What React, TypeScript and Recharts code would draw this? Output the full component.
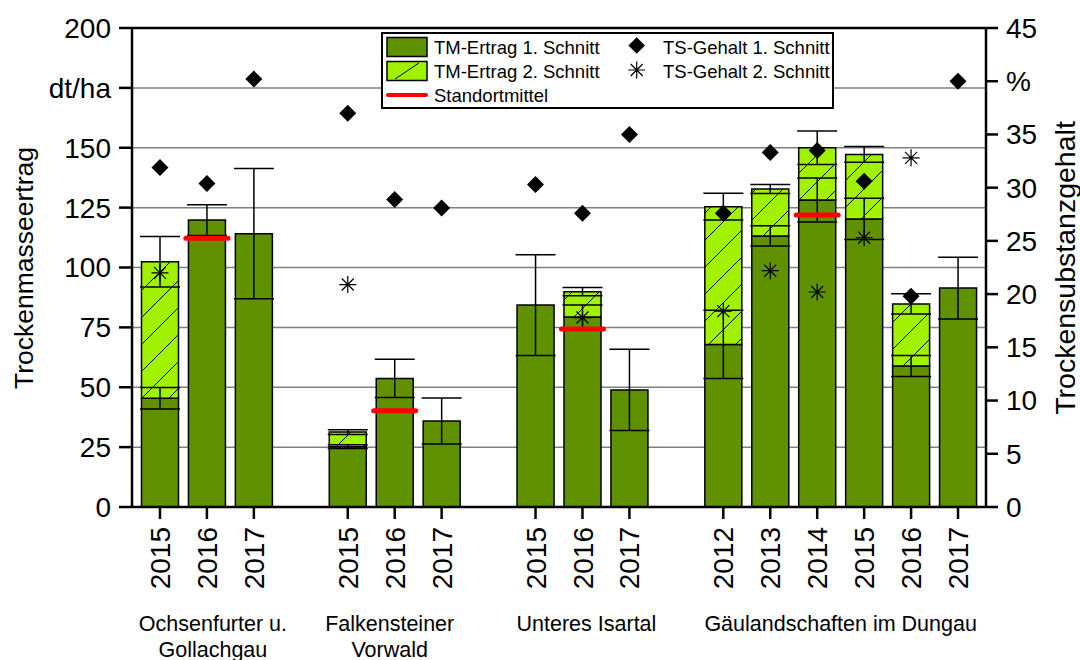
import React from 'react';
import {
  ComposedChart,
  Bar,
  Line,
  XAxis,
  YAxis,
  CartesianGrid,
  ErrorBar,
  ReferenceLine,
  Legend,
} from 'recharts';

// ---------- data ----------
const years = ['2015', '2016', '2017', '', '2015', '2016', '2017', '', '2015', '2016', '2017', '', '2012', '2013', '2014', '2015', '2016', '2017'];
// TM-Ertrag 1. Schnitt (dt/ha)
const tmCut1 = [45.4, 119.8, 114.1, null, 25.2, 53.7, 35.9, null, 84.3, 79.3, 48.9, null, 67.9, 113.2, 128.2, 120.3, 58.9, 91.4];
// TM-Ertrag 2. Schnitt (dt/ha, stacked on top of 1. Schnitt)
const tmCut2 = [57.0, null, null, null, 6.1, null, null, null, null, 10.6, null, null, 57.5, 19.6, 21.8, 26.9, 25.9, null];
// error (+/-) of 1. Schnitt
const errCut1 = [4.5, 6.4, 27.2, null, 0.8, 8.0, 9.6, null, 21.0, 5.0, 17.0, null, 14.2, 4.2, 9.2, 8.6, 4.4, 12.9];
// error (+/-) of total (2. Schnitt)
const errCut2 = [10.5, null, null, null, 1.0, null, null, null, null, 1.7, null, null, 5.6, 1.9, 7.0, 3.3, 4.2, null];
// TS-Gehalt 1. Schnitt (%)
const tsCut1 = [31.9, 30.4, 40.2, null, 37.0, 28.9, 28.1, null, 30.3, 27.6, 35.0, null, 27.6, 33.3, 33.5, 30.6, 19.8, 40.0];
// TS-Gehalt 2. Schnitt (%)
const tsCut2 = [22.0, null, null, null, 20.9, null, null, null, null, 17.8, null, null, 18.4, 22.2, 20.2, 25.3, 32.8, null];
// Standortmittel (dt/ha)
const siteMean = [null, 112.2, null, null, null, 40.2, null, null, null, 74.3, null, null, null, null, 121.9, null, null, null];

const leftTicks = [0, 25, 50, 75, 100, 125, 150, 175, 200];
const leftTickLabels = ['0', '25', '50', '75', '100', '125', '150', 'dt/ha', '200'];
const rightTicks = [0, 5, 10, 15, 20, 25, 30, 35, 40, 45];
const rightTickLabels = ['0', '5', '10', '15', '20', '25', '30', '35', '%', '45'];

const groupNames = [['Ochsenfurter u.', 'Gollachgau'], ['Falkensteiner', 'Vorwald'], ['Unteres Isartal'], ['Gäulandschaften im Dungau']];
const groupFirst = [0, 4, 8, 12];
const groupCount = [3, 3, 3, 6];

const data = years.map((y, i) => ({
  slot: i,
  year: y,
  tm1: tmCut1[i],
  tm2: tmCut2[i],
  e1: errCut1[i],
  e2: errCut2[i],
  ts1: tsCut1[i],
  ts2: tsCut2[i],
  mean: siteMean[i],
}));

// ---------- style / layout constants ----------
const FONT = 'Liberation Sans, Arial, Helvetica, sans-serif';
const DARK = '#5f9100';
const LIME = '#a0f200';
const PLOT_BOTTOM = 507;
const SLOT = 46.94;
const GROUP_DX = [6, -5, 4, 0];

const XTick = (props: any) => {
  const { x, payload } = props;
  const i = Number(payload.value);
  const yr = years[i];
  const g = groupFirst.indexOf(i);
  const gx = g >= 0 ? x + ((groupCount[g] - 1) / 2) * SLOT + GROUP_DX[g] : 0;
  return (
    <g>
      {yr ? (
        <g>
          <line x1={x} x2={x} y1={PLOT_BOTTOM} y2={PLOT_BOTTOM + 12} stroke="#000" strokeWidth={2.5} />
          <text
            x={x}
            y={527}
            transform={`rotate(-90 ${x} 527)`}
            textAnchor="end"
            dy="0.36em"
            fontSize={28}
            fontFamily={FONT}
            fill="#000"
          >
            {yr}
          </text>
        </g>
      ) : null}
      {g >= 0 ? (
        <text x={gx} y={631} textAnchor="middle" fontSize={21.5} fontFamily={FONT} fill="#000">
          {groupNames[g].map((s, k) => (
            <tspan key={k} x={gx} dy={k === 0 ? 0 : 26}>
              {s}
            </tspan>
          ))}
        </text>
      ) : null}
    </g>
  );
};

const diamondPath = (cx: number, cy: number, r: number) =>
  `M${cx},${cy - r} L${cx + r},${cy} L${cx},${cy + r} L${cx - r},${cy} Z`;

const starPath = (cx: number, cy: number, r: number) => {
  const d = r * Math.SQRT1_2;
  return `M${cx},${cy - r} L${cx},${cy + r} M${cx - r},${cy} L${cx + r},${cy} M${cx - d},${cy - d} L${cx + d},${cy + d} M${cx - d},${cy + d} L${cx + d},${cy - d}`;
};

const invalid = (p: any) => p.value == null || p.cy == null || isNaN(p.cy) || p.cx == null;

const DiamondDot = (p: any) => {
  if (invalid(p)) return <g key={`dd${p.index}`} />;
  return <path key={`dd${p.index}`} d={diamondPath(p.cx, p.cy, 8.5)} fill="#000" />;
};

const StarDot = (p: any) => {
  if (invalid(p)) return <g key={`sd${p.index}`} />;
  return <path key={`sd${p.index}`} d={starPath(p.cx, p.cy, 8.5)} stroke="#000" strokeWidth={1.2} fill="none" />;
};

const MeanDot = (p: any) => {
  if (invalid(p)) return <g key={`md${p.index}`} />;
  return (
    <line
      key={`md${p.index}`}
      x1={p.cx - 21}
      x2={p.cx + 21}
      y1={p.cy}
      y2={p.cy}
      stroke="#ff0000"
      strokeWidth={5}
      strokeLinecap="round"
    />
  );
};

const LegendBox = () => (
  <svg width={453} height={77} style={{ display: 'block' }}>
    <rect x={1} y={1} width={451} height={75} fill="#fff" stroke="#000" strokeWidth={2} />
    <rect x={6} y={5.5} width={40} height={19} fill={DARK} stroke="#000" strokeWidth={1.5} />
    <rect x={6} y={29.5} width={40} height={19} fill={LIME} stroke="#000" strokeWidth={1.5} />
    <line x1={14} y1={47} x2={38} y2={31} stroke="#000" strokeWidth={1} />
    <line x1={7} y1={63} x2={45} y2={63} stroke="#ff0000" strokeWidth={4} strokeLinecap="round" />
    <g fontFamily={FONT} fontSize={18.5} fill="#000">
      <text x={53} y={22}>TM-Ertrag 1. Schnitt</text>
      <text x={53} y={46}>TM-Ertrag 2. Schnitt</text>
      <text x={53} y={70}>Standortmittel</text>
      <text x={282} y={22}>TS-Gehalt 1. Schnitt</text>
      <text x={282} y={46}>TS-Gehalt 2. Schnitt</text>
    </g>
    <path d={diamondPath(255.7, 13.5, 8.3)} fill="#000" />
    <path d={starPath(255.7, 38, 8.5)} stroke="#000" strokeWidth={1.2} fill="none" />
  </svg>
);

const leftTitle = () => (
  <text x={24} y={268} transform="rotate(-90 24 268)" textAnchor="middle" dominantBaseline="central" fontSize={26.5} fontFamily={FONT} fill="#000">
    Trockenmasseertrag
  </text>
);

const rightTitle = () => (
  <text x={1065} y={268} transform="rotate(-90 1065 268)" textAnchor="middle" dominantBaseline="central" fontSize={28.5} fontFamily={FONT} fill="#000">
    Trockensubstanzgehalt
  </text>
);

export default function App() {
  return (
    <div style={{ position: 'absolute', left: 0, top: 0, width: 1080, height: 660, background: '#fff' }}>
      <ComposedChart
        width={1080}
        height={660}
        data={data}
        margin={{ top: 28, right: 14, bottom: 3, left: 32 }}
      >
        <defs>
          <pattern id="hatch" patternUnits="userSpaceOnUse" width={27} height={27}>
            <rect x={0} y={0} width={27} height={27} fill={LIME} />
            <path d="M0,27 L27,0 M-2,2 L2,-2 M25,29 L29,25" stroke="#000" strokeWidth={1} />
          </pattern>
        </defs>
        <CartesianGrid yAxisId="left" vertical={false} stroke="#808080" strokeWidth={1.5} />
        <XAxis
          dataKey="slot"
          type="category"
          interval={0}
          height={150}
          padding={{ left: 4.5, right: 4.5 }}
          tickLine={false}
          axisLine={{ stroke: '#000', strokeWidth: 2.5 }}
          tick={<XTick />}
        />
        <YAxis
          yAxisId="left"
          width={100}
          domain={[0, 200]}
          ticks={leftTicks}
          allowDataOverflow
          tickFormatter={(v: number) => leftTickLabels[leftTicks.indexOf(v)]}
          tickSize={13}
          tickMargin={8}
          tickLine={{ stroke: '#000', strokeWidth: 2.5 }}
          axisLine={{ stroke: '#000', strokeWidth: 2.5 }}
          tick={{ fontSize: 28, fill: '#000', fontFamily: FONT }}
          label={leftTitle}
        />
        <YAxis
          yAxisId="right"
          orientation="right"
          width={80}
          domain={[0, 45]}
          ticks={rightTicks}
          allowDataOverflow
          tickFormatter={(v: number) => rightTickLabels[rightTicks.indexOf(v)]}
          tickSize={12}
          tickMargin={8}
          tickLine={{ stroke: '#000', strokeWidth: 2.5 }}
          axisLine={{ stroke: '#000', strokeWidth: 2.5 }}
          tick={{ fontSize: 28, fill: '#000', fontFamily: FONT }}
          label={rightTitle}
        />
        <ReferenceLine yAxisId="left" y={200} stroke="#000" strokeWidth={2.5} />
        <Bar yAxisId="left" dataKey="tm1" stackId="tm" barSize={37} fill={DARK} stroke="#000" strokeWidth={1.5} isAnimationActive={false}>
          <ErrorBar dataKey="e1" width={20} stroke="#000" strokeWidth={1.5} />
        </Bar>
        <Bar yAxisId="left" dataKey="tm2" stackId="tm" barSize={37} fill="url(#hatch)" stroke="#000" strokeWidth={1.5} isAnimationActive={false}>
          <ErrorBar dataKey="e2" width={20} stroke="#000" strokeWidth={1.5} />
        </Bar>
        <Line yAxisId="left" dataKey="mean" stroke="none" dot={MeanDot} activeDot={false} isAnimationActive={false} />
        <Line yAxisId="right" dataKey="ts1" stroke="none" dot={DiamondDot} activeDot={false} isAnimationActive={false} />
        <Line yAxisId="right" dataKey="ts2" stroke="none" dot={StarDot} activeDot={false} isAnimationActive={false} />
        <Legend
          layout="horizontal"
          verticalAlign="middle"
          align="center"
          wrapperStyle={{ left: 381, top: 32, width: 453, height: 77 }}
          content={() => <LegendBox />}
        />
      </ComposedChart>
    </div>
  );
}
